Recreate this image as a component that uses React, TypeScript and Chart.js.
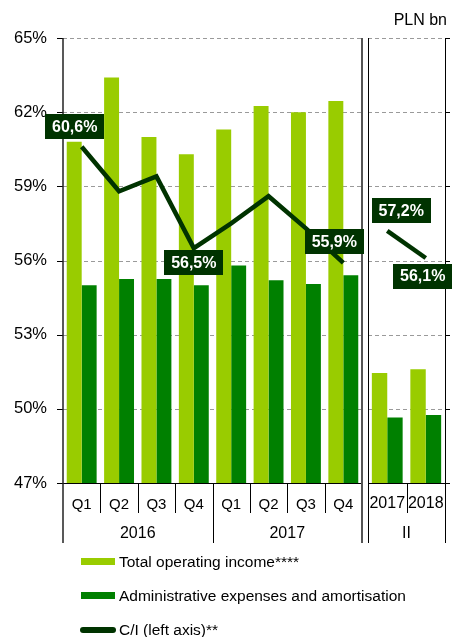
import React, { useEffect, useRef } from 'react';
import { Chart, registerables } from 'chart.js';

Chart.register(...registerables);

const FONT = '"Liberation Sans", Arial, sans-serif';
Chart.defaults.font.family = FONT;

// ---- data ----
const quarterLabels = ['Q1', 'Q2', 'Q3', 'Q4', 'Q1', 'Q2', 'Q3', 'Q4'];
const yearGroups = ['2016', '2017'];
const incomeQ = [60.8, 63.4, 61.0, 60.3, 61.3, 62.25, 62.0, 62.45];
const adminQ = [55.0, 55.25, 55.25, 55.0, 55.8, 55.2, 55.05, 55.4];
const ciQ = [60.6, 58.8, 59.4, 56.5, 57.5, 58.6, 57.3, 55.9];

const halfLabels = ['2017', '2018'];
const halfGroup = 'II';
const incomeH = [51.45, 51.6];
const adminH = [49.65, 49.75];
const ciH = [57.2, 56.1];

const yMin = 47;
const yMax = 65;
const yStep = 3;

const seriesNames = ['Total operating income****', 'Administrative expenses and amortisation', 'C/I (left axis)**'];
const unitLabel = 'PLN bn';

// ---- style ----
const LIGHT = '#99CC00';
const MID = '#008000';
const DARK = '#003300';
const GRID = '#9a9a9a';

// label box offsets (px) relative to the point, keyed by point index
const labelOffsetsQ: Record<number, [number, number]> = { 0: [-7, -20], 3: [0, 14], 7: [-9, -21] };
const labelOffsetsH: Record<number, [number, number]> = { 0: [14, -20], 1: [-3, 18] };

const fmt = (v: number) => v.toFixed(1).replace('.', ',') + '%';

function drawLabels(chart: any, offsets: Record<number, [number, number]>, values: number[]) {
  const ctx = chart.ctx;
  const meta = chart.getDatasetMeta(0);
  ctx.save();
  ctx.font = `bold 16px ${FONT}`;
  ctx.textAlign = 'center';
  ctx.textBaseline = 'middle';
  Object.keys(offsets).forEach((k) => {
    const i = Number(k);
    const el = meta.data[i];
    if (!el) return;
    const [dx, dy] = offsets[i];
    const cx = el.x + dx;
    const cy = el.y + dy;
    const w = 59;
    const h = 25;
    ctx.fillStyle = DARK;
    ctx.fillRect(Math.round(cx - w / 2), Math.round(cy - h / 2), w, h);
    ctx.fillStyle = '#ffffff';
    ctx.fillText(fmt(values[i]), cx, cy + 1);
  });
  ctx.restore();
}

function line(ctx: CanvasRenderingContext2D, x1: number, y1: number, x2: number, y2: number) {
  ctx.beginPath();
  ctx.moveTo(x1, y1);
  ctx.lineTo(x2, y2);
  ctx.stroke();
}

const dashedGrid = {
  id: 'dashedGrid',
  beforeDatasetsDraw(chart: any) {
    const ctx = chart.ctx as CanvasRenderingContext2D;
    const ys = chart.scales.y;
    const a = chart.chartArea;
    ctx.save();
    ctx.strokeStyle = GRID;
    ctx.lineWidth = 1;
    ctx.setLineDash([4, 3]);
    ys.ticks.forEach((t: any) => {
      const py = Math.round(ys.getPixelForValue(t.value)) + 0.5;
      line(ctx, a.left, py, a.right, py);
    });
    ctx.restore();
  },
};

const mainOverlay = {
  id: 'mainOverlay',
  afterDraw(chart: any) {
    const ctx = chart.ctx as CanvasRenderingContext2D;
    const xs = chart.scales.x;
    const ys = chart.scales.y;
    const a = chart.chartArea;
    const bottom = a.bottom;
    ctx.save();
    ctx.strokeStyle = '#000';
    ctx.lineWidth = 1;
    ys.ticks.forEach((t: any) => {
      const py = Math.round(ys.getPixelForValue(t.value)) + 0.5;
      line(ctx, a.left - 6, py, a.left, py);
    });
    line(ctx, a.left, Math.round(bottom) + 0.5, a.right, Math.round(bottom) + 0.5);
    ctx.strokeStyle = '#222';
    ctx.lineWidth = 1.5;
    line(ctx, a.left, a.top, a.left, bottom + 60);
    ctx.strokeStyle = '#555';
    ctx.lineWidth = 2;
    line(ctx, a.right, a.top, a.right, bottom + 60);
    ctx.strokeStyle = '#000';
    ctx.lineWidth = 1;
    const n = quarterLabels.length;
    const per = n / yearGroups.length;
    for (let i = 0; i < n - 1; i++) {
      const bx = Math.round((xs.getPixelForValue(i) + xs.getPixelForValue(i + 1)) / 2) + 0.5;
      const long = (i + 1) % per === 0;
      line(ctx, bx, bottom, bx, bottom + (long ? 60 : 30));
    }
    ctx.fillStyle = '#000';
    ctx.textAlign = 'center';
    ctx.textBaseline = 'middle';
    ctx.font = `15px ${FONT}`;
    quarterLabels.forEach((q, i) => ctx.fillText(q, xs.getPixelForValue(i), bottom + 22));
    ctx.font = `16px ${FONT}`;
    yearGroups.forEach((yg, g) => {
      const first = g * per;
      const last = first + per - 1;
      const left = first === 0 ? a.left : (xs.getPixelForValue(first - 1) + xs.getPixelForValue(first)) / 2;
      const right = last === n - 1 ? a.right : (xs.getPixelForValue(last) + xs.getPixelForValue(last + 1)) / 2;
      ctx.fillText(yg, (left + right) / 2, bottom + 51);
    });
    ctx.restore();
    drawLabels(chart, labelOffsetsQ, ciQ);
  },
};

const halfOverlay = {
  id: 'halfOverlay',
  afterDraw(chart: any) {
    const ctx = chart.ctx as CanvasRenderingContext2D;
    const xs = chart.scales.x;
    const ys = chart.scales.y;
    const a = chart.chartArea;
    const bottom = a.bottom;
    ctx.save();
    ctx.strokeStyle = '#000';
    ctx.lineWidth = 1;
    ys.ticks.forEach((t: any) => {
      const py = Math.round(ys.getPixelForValue(t.value)) + 0.5;
      line(ctx, a.right, py, a.right + 5, py);
    });
    line(ctx, a.left, Math.round(bottom) + 0.5, a.right, Math.round(bottom) + 0.5);
    line(ctx, Math.round(a.left) + 0.5, a.top, Math.round(a.left) + 0.5, bottom + 60);
    line(ctx, Math.round(a.right) + 0.5, a.top, Math.round(a.right) + 0.5, bottom + 60);
    for (let i = 0; i < halfLabels.length - 1; i++) {
      const bx = Math.round((xs.getPixelForValue(i) + xs.getPixelForValue(i + 1)) / 2) + 0.5;
      line(ctx, bx, bottom, bx, bottom + 30);
    }
    ctx.fillStyle = '#000';
    ctx.textAlign = 'center';
    ctx.textBaseline = 'middle';
    ctx.font = `16px ${FONT}`;
    halfLabels.forEach((h, i) => ctx.fillText(h, xs.getPixelForValue(i), bottom + 21));
    ctx.fillText(halfGroup, (a.left + a.right) / 2, bottom + 51);
    ctx.restore();
    drawLabels(chart, labelOffsetsH, ciH);
  },
};

function datasets(ci: number[], inc: number[], adm: number[]) {
  return [
    {
      type: 'line' as const,
      label: seriesNames[2],
      data: ci,
      borderColor: DARK,
      backgroundColor: DARK,
      borderWidth: 4.5,
      pointRadius: 0,
      tension: 0,
      order: 0,
    },
    {
      type: 'bar' as const,
      label: seriesNames[0],
      data: inc,
      backgroundColor: LIGHT,
      borderWidth: 0,
      categoryPercentage: 0.8,
      barPercentage: 1.0,
      order: 1,
    },
    {
      type: 'bar' as const,
      label: seriesNames[1],
      data: adm,
      backgroundColor: MID,
      borderWidth: 0,
      categoryPercentage: 0.8,
      barPercentage: 1.0,
      order: 1,
    },
  ];
}

function baseOptions(padding: any, yPos: 'left' | 'right', showYLabels: boolean, yWidth: number) {
  return {
    responsive: false,
    animation: false as const,
    events: [],
    layout: { padding },
    plugins: { legend: { display: false }, tooltip: { enabled: false } },
    scales: {
      x: {
        ticks: { display: false },
        grid: { display: false },
        border: { display: false },
        afterFit: (s: any) => {
          s.height = 60;
        },
      },
      y: {
        position: yPos,
        min: yMin,
        max: yMax,
        ticks: {
          display: showYLabels,
          stepSize: yStep,
          padding: 16,
          color: '#000',
          font: { size: 16.5, family: FONT },
          callback: (v: any) => v + '%',
        },
        grid: { display: false, drawTicks: false },
        border: { display: false },
        afterFit: (s: any) => {
          s.width = yWidth;
        },
      },
    },
  };
}

export default function App() {
  const mainRef = useRef<HTMLCanvasElement>(null);
  const halfRef = useRef<HTMLCanvasElement>(null);

  useEffect(() => {
    const c1 = new Chart(mainRef.current!, {
      type: 'bar',
      data: { labels: quarterLabels, datasets: datasets(ciQ, incomeQ, adminQ) as any },
      options: baseOptions({ top: 38, left: 0, right: 94, bottom: 94 }, 'left', true, 63) as any,
      plugins: [dashedGrid, mainOverlay],
    });
    const c2 = new Chart(halfRef.current!, {
      type: 'bar',
      data: { labels: halfLabels, datasets: datasets(ciH, incomeH, adminH) as any },
      options: baseOptions({ top: 38, left: 368, right: 0, bottom: 94 }, 'right', false, 11) as any,
      plugins: [dashedGrid, halfOverlay],
    });
    return () => {
      c1.destroy();
      c2.destroy();
    };
  }, []);

  const legendRows = [
    { y: 562, kind: 'bar', color: LIGHT, text: seriesNames[0] },
    { y: 596, kind: 'bar', color: MID, text: seriesNames[1] },
    { y: 630, kind: 'line', color: DARK, text: seriesNames[2] },
  ];

  return (
    <div style={{ position: 'absolute', left: 0, top: 0, width: 456, height: 637, background: '#fff', fontFamily: FONT }}>
      <canvas ref={mainRef} width={456} height={637} style={{ position: 'absolute', left: 0, top: 0 }} />
      <canvas ref={halfRef} width={456} height={637} style={{ position: 'absolute', left: 0, top: 0 }} />
      <div style={{ position: 'absolute', right: 9, top: 10, fontSize: 16, lineHeight: '19px', color: '#000' }}>{unitLabel}</div>
      {legendRows.map((r, i) => (
        <React.Fragment key={i}>
          {r.kind === 'bar' ? (
            <div style={{ position: 'absolute', left: 81, top: r.y - 4, width: 34, height: 7, background: r.color }} />
          ) : (
            <div style={{ position: 'absolute', left: 80, top: r.y - 3, width: 36, height: 6, borderRadius: 3, background: r.color }} />
          )}
          <div style={{ position: 'absolute', left: 119, top: r.y - 10, fontSize: 15.5, lineHeight: '19px', color: '#000', whiteSpace: 'nowrap' }}>
            {r.text}
          </div>
        </React.Fragment>
      ))}
    </div>
  );
}
